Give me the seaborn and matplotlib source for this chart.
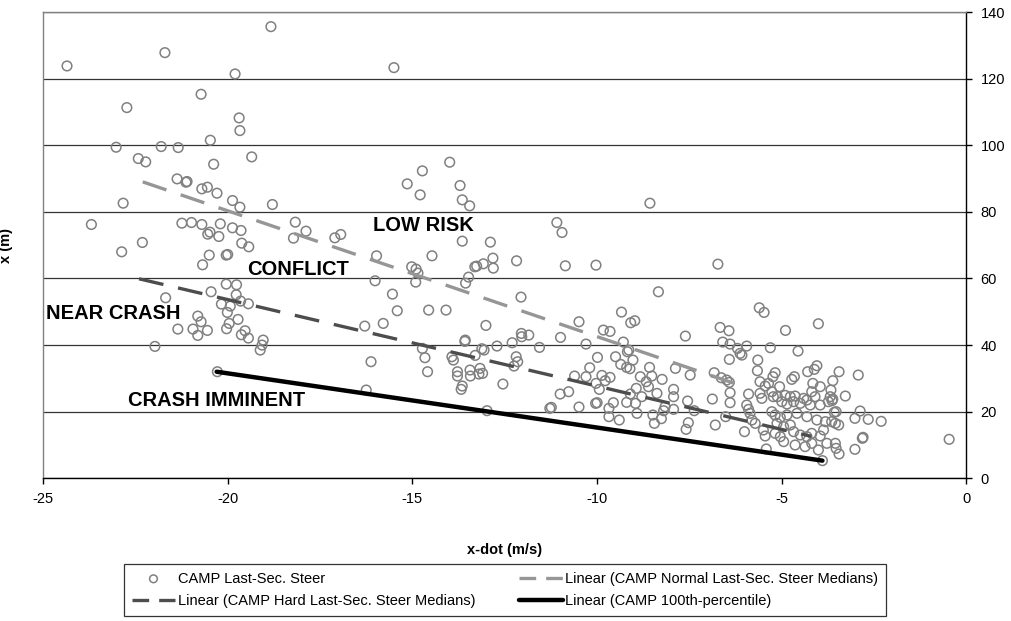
import numpy as np
import pandas as pd
import matplotlib
matplotlib.use("Agg")
import matplotlib.pyplot as plt
import seaborn as sns

# CAMP last-second steer data (x-dot in m/s, x in m)
steer_xdot = [
    -24.35, -21.7, -18.83, -19.8, -20.72, -22.73, -19.69, -19.67, -20.47, -23.02,
    -21.8, -21.34, -22.42, -22.22, -20.38, -19.35, -21.37, -21.13, -21.1, -20.7,
    -20.55, -20.29, -19.87, -19.67, -18.79, -22.83, -23.69, -21.24, -20.98, -20.7,
    -20.2, -19.87, -19.64, -20.54, -20.48, -20.24, -19.62, -19.43, -22.31, -22.87,
    -20.5, -20.04, -20.0, -18.17, -17.88, -18.22, -17.1, -16.94,
    -20.68, -20.04, -19.76, -20.45, -21.68, -19.77, -19.65, -19.44, -20.17, -19.93,
    -20.01, -20.81, -20.72, -19.72, -19.96, -20.03, -21.35, -20.94, -20.55, -20.81,
    -19.53, -19.63, -19.44, -19.04, -19.07, -19.12, -21.97, -20.28,
    -15.5, -13.99, -14.73, -15.14, -13.71, -14.79, -13.65, -13.45, -8.57, -11.09,
    -10.95, -13.65, -12.89, -15.97, -14.47, -12.82, -12.18,
    -15.02, -14.9, -14.85, -14.91, -13.31, -13.26, -13.08, -12.81, -10.86, -10.03,
    -13.48, -13.56, -16.01, -15.54, -15.41, -14.56, -14.09, -12.06, -8.34, -16.29,
    -15.79, -13.01, -9.34, -9.09, -8.98, -10.49, -9.83, -9.65, -10.99, -12.05,
    -12.04, -11.85, -12.3, -13.57, -13.58, -12.71, -11.56, -10.3, -9.29, -14.73,
    -14.66, -14.59, -16.12, -13.12, -13.06, -13.3, -13.93, -13.89, -12.19, -12.15,
    -12.25, -13.78, -13.78, -13.44, -13.17, -13.2, -13.43, -13.1, -13.65, -13.68,
    -12.55, -12.98, -16.25, -9.5, -9.99, -9.36, -9.2, -9.11, -9.14, -9.03,
    -9.18, -10.2, -10.61, -10.3, -9.87, -9.65, -9.78, -10.03, -9.94, -8.58,
    -8.52, -8.24, -8.83, -8.67, -8.61, -8.38, -8.79, -8.94, -9.1, -9.2,
    -8.96, -8.92, -8.49, -8.45, -8.26, -8.2, -8.16, -11.0, -10.77, -10.49,
    -10.04, -10.0, -9.68, -9.68, -9.4, -9.56, -11.28, -11.24,
    -6.73, -7.61, -6.67, -6.43, -6.6, -6.4, -6.2, -5.95, -5.61, -5.48, -4.9, -4.01,
    -3.45, -2.93, -3.62, -3.28, -3.62, -3.64, -3.53, -3.58, -2.88, -3.02,
    -2.66, -2.31, -3.46, -3.65, -2.82, -2.8, -3.55, -3.53, -3.45, -3.02, -0.47,
    -6.13, -6.08, -6.42, -5.31, -4.56, -5.65, -5.66, -7.88, -7.48, -6.83,
    -6.64, -6.49, -6.42, -7.93, -7.93, -7.55, -7.37, -7.93, -6.88, -6.4,
    -6.4, -7.53, -7.59, -6.8, -6.52, -6.01, -5.42, -3.9,
    -4.05, -4.12, -4.3, -5.18, -5.24, -4.73, -4.66, -5.59, -5.36, -5.45,
    -5.06, -4.16, -3.96, -4.19, -3.67, -5.9, -5.59, -5.54, -5.27, -5.23,
    -5.12, -4.91, -4.77, -4.64, -4.41, -4.32, -4.1, -3.69, -3.74, -5.0,
    -4.86, -4.68, -4.5, -4.23, -3.96, -5.95, -5.9, -5.86, -5.27, -5.18,
    -5.04, -4.86, -4.59, -4.32, -4.05, -3.82, -3.55, -5.81, -5.72, -5.13,
    -4.95, -4.77, -5.5, -5.45, -5.18, -5.04, -4.68, -4.5, -4.32, -4.19,
    -3.96, -3.87, -4.95, -4.64, -4.37, -4.19, -4.01, -3.78,
]
steer_x = [
    123.8, 127.8, 135.6, 121.4, 115.3, 111.3, 108.2, 104.4, 101.5, 99.4,
    99.6, 99.3, 96.0, 95.0, 94.3, 96.5, 89.9, 88.9, 89.1, 86.9,
    87.4, 85.6, 83.4, 81.4, 82.2, 82.6, 76.2, 76.6, 76.8, 76.2,
    76.4, 75.2, 74.4, 73.3, 73.9, 72.6, 70.6, 69.5, 70.8, 68.0,
    67.0, 67.0, 67.2, 76.9, 74.2, 72.1, 72.2, 73.2,
    64.1, 58.3, 58.1, 56.0, 54.2, 55.1, 53.2, 52.4, 52.3, 51.7,
    49.8, 48.7, 47.0, 47.7, 46.5, 44.9, 44.8, 44.8, 44.4, 42.9,
    44.3, 43.1, 42.1, 41.5, 40.0, 38.5, 39.6, 32.0,
    123.3, 94.9, 92.3, 88.4, 87.9, 85.1, 83.6, 81.8, 82.6, 76.8,
    73.8, 71.2, 70.9, 66.8, 66.8, 66.1, 65.3,
    63.5, 62.8, 61.6, 58.9, 63.5, 63.7, 64.4, 63.1, 63.8, 64.0,
    60.4, 58.6, 59.3, 55.3, 50.3, 50.5, 50.5, 54.4, 56.0, 45.7,
    46.5, 45.9, 49.9, 46.7, 47.3, 47.0, 44.5, 44.1, 42.3, 43.5,
    42.5, 43.0, 40.7, 41.5, 41.1, 39.7, 39.3, 40.3, 40.9, 39.0,
    36.2, 32.0, 35.0, 38.9, 38.5, 36.9, 36.5, 35.5, 36.5, 35.0,
    33.7, 32.0, 30.7, 32.5, 33.0, 31.3, 30.7, 31.5, 27.7, 26.7,
    28.3, 20.3, 26.5, 36.5, 36.3, 34.2, 33.3, 32.9, 38.5, 35.5,
    38.0, 33.2, 30.7, 30.5, 30.9, 30.3, 29.3, 28.5, 26.7, 33.3,
    30.7, 29.7, 30.5, 29.0, 27.5, 25.5, 24.5, 27.0, 25.3, 22.8,
    22.5, 19.5, 19.0, 16.5, 17.9, 20.3, 21.5, 25.3, 26.0, 21.4,
    22.5, 22.7, 21.0, 18.5, 17.5, 22.7, 21.0, 21.3,
    64.3, 42.7, 45.3, 44.3, 40.9, 40.3, 39.0, 39.7, 51.2, 49.8, 44.4, 46.4,
    32.0, 31.0, 29.3, 24.7, 23.8, 23.3, 20.0, 19.8, 20.2, 18.0,
    17.7, 17.1, 16.0, 17.0, 12.0, 12.3, 10.5, 9.0, 7.3, 8.7, 11.7,
    37.5, 37.0, 35.7, 39.2, 38.2, 35.5, 32.3, 33.0, 31.0, 31.7,
    30.2, 29.5, 28.8, 26.7, 24.5, 23.2, 20.3, 20.7, 23.8, 25.7,
    22.7, 16.7, 14.7, 16.0, 18.5, 14.0, 8.8, 5.3,
    33.8, 32.7, 32.0, 31.7, 30.5, 29.7, 30.5, 29.0, 28.5, 27.7,
    27.5, 28.5, 27.5, 26.0, 26.5, 25.3, 25.5, 24.0, 26.0, 24.5,
    24.5, 24.9, 24.5, 24.7, 24.0, 23.5, 24.5, 24.5, 23.0, 23.0,
    22.3, 23.0, 22.5, 22.0, 22.0, 22.0, 20.7, 19.5, 20.0, 19.0,
    18.3, 19.0, 19.5, 18.5, 17.5, 17.0, 16.5, 17.5, 16.5, 16.5,
    15.5, 16.0, 14.5, 12.7, 13.5, 12.5, 14.0, 13.0, 12.5, 13.5,
    12.7, 14.5, 11.0, 10.0, 9.5, 10.5, 8.5, 10.5,
]

# fitted trend lines (end points)
normal_xdot = [-22.3, -6.1]
normal_x = [89.0, 27.8]
hard_xdot = [-22.4, -4.2]
hard_x = [59.9, 12.6]
pct100_xdot = [-20.3, -3.9]
pct100_x = [32.0, 5.3]

zone_names = ["LOW RISK", "CONFLICT", "NEAR CRASH", "CRASH IMMINENT"]
zone_xdot = [-14.7, -18.1, -23.1, -20.3]
zone_x = [76.0, 62.6, 49.4, 23.4]

sns.set_style("white")
plt.rcParams["font.family"] = ["Liberation Sans", "DejaVu Sans"]
plt.rcParams["axes.unicode_minus"] = False
plt.rcParams["text.color"] = "black"
plt.rcParams["axes.labelcolor"] = "black"
plt.rcParams["xtick.color"] = "black"
plt.rcParams["ytick.color"] = "black"

fig = plt.figure(figsize=(10.12, 6.21), dpi=100)
ax = fig.add_axes([43 / 1012, 1 - 478.3 / 621, 923.5 / 1012, 466.3 / 621])

df = pd.DataFrame({"xdot": steer_xdot, "x": steer_x})
sns.scatterplot(data=df, x="xdot", y="x", ax=ax, marker="o", s=48,
                facecolor="none", edgecolor="#808080", linewidth=1.1,
                label="CAMP Last-Sec. Steer", zorder=3)

sns.lineplot(x=normal_xdot, y=normal_x, ax=ax, color="#969696", linewidth=2.4,
             linestyle=(0, (7.5, 4.5)), label="Linear (CAMP Normal Last-Sec. Steer Medians)", zorder=4)
sns.lineplot(x=hard_xdot, y=hard_x, ax=ax, color="#4d4d4d", linewidth=2.4,
             linestyle=(0, (7.5, 4.5)), label="Linear (CAMP Hard Last-Sec. Steer Medians)", zorder=4)
sns.lineplot(x=pct100_xdot, y=pct100_x, ax=ax, color="black", linewidth=3.2,
             label="Linear (CAMP 100th-percentile)", zorder=5)

for name, xd, xx in zip(zone_names, zone_xdot, zone_x):
    ax.text(xd, xx, name, ha="center", va="center", fontsize=14.5,
            fontweight="heavy", color="black", zorder=6)

ax.set_xlim(-25, 0)
ax.set_ylim(0, 140)
ax.set_xticks(np.arange(-25, 1, 5))
ax.set_yticks(np.arange(0, 141, 20))
ax.yaxis.tick_right()
ax.grid(axis="y", color="#333333", linewidth=0.9)
ax.grid(axis="x", visible=False)
ax.set_axisbelow(True)

for side in ["left", "top"]:
    ax.spines[side].set_color("#808080")
for side in ["right", "bottom"]:
    ax.spines[side].set_color("black")
for sp in ax.spines.values():
    sp.set_linewidth(1.0)

ax.tick_params(axis="both", which="major", direction="out", length=4, width=1,
               color="black", labelsize=10.5, pad=6)
ax.tick_params(axis="y", right=True, left=False)
ax.tick_params(axis="x", bottom=True)

ax.set_xlabel("x-dot (m/s)", fontsize=10.5, fontweight="bold")
ax.set_ylabel("x (m)", fontsize=10.5, fontweight="bold")
ax.yaxis.set_label_position("left")
ax.yaxis.set_label_coords(-0.033, 0.5)
ax.xaxis.set_label_coords(0.5, -0.138)

handles, labels = ax.get_legend_handles_labels()
ax.get_legend().remove()
order = [0, 2, 1, 3]
leg = fig.legend([handles[i] for i in order], [labels[i] for i in order],
                 ncol=2, loc="center", mode="expand",
                 bbox_to_anchor=(117 / 1012, 1 - 613 / 621, 776 / 1012, 46 / 621),
                 frameon=True, fancybox=False, edgecolor="black", fontsize=10.5,
                 handlelength=3.0, handletextpad=0.2, borderpad=0.5,
                 labelspacing=0.6, markerscale=0.8)
leg.get_frame().set_linewidth(0.9)
# shorter dashes in the legend keys so two full dashes show
for ln in leg.get_lines():
    if ln.get_linestyle() not in ("-", "None", "none", ""):
        ln.set_linestyle((0, (5, 3)))

fig.savefig("out.png", dpi=100, facecolor="white")
